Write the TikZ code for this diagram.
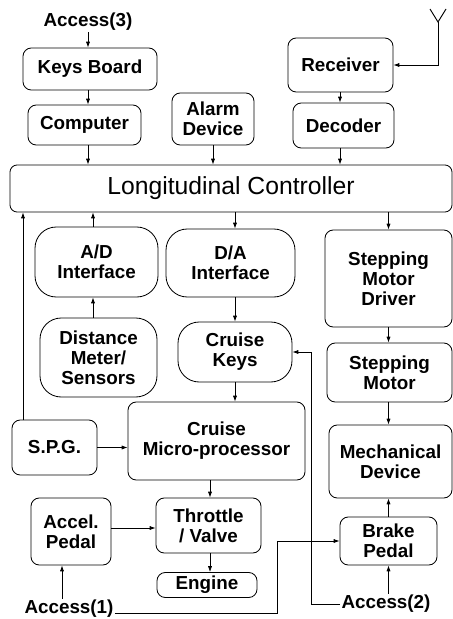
\documentclass[tikz,border=0pt]{standalone}
\usepackage{fontspec}
\setmainfont{Liberation Sans}
\usetikzlibrary{shapes,arrows.meta,positioning}

\begin{document}
\begin{tikzpicture}[
    x=0.85pt, y=-0.85pt,
    block/.style 2 args={rectangle, draw=black, line width=0.7pt, rounded corners=7pt, inner sep=0pt, align=center,
        minimum width=#1*0.85pt, minimum height=#2*0.85pt, font=\fontsize{16}{17}\selectfont\bfseries},
    soft/.style={rounded corners=18pt},
    label/.style={inner sep=1pt, font=\fontsize{16}{17}\selectfont\bfseries},
    link/.style={line width=0.6pt, -{Latex[length=5pt,width=3.5pt]}},
    wire/.style={line width=0.8pt}
]
\useasboundingbox (0,0) rectangle (453,619);

% Top row
\node [label] (acc3) at (88,22) {Access(3)};
\node [block={134}{42}] (keys) at (90,69) {Keys Board};
\node [block={113}{40}] (comp) at (84.5,125) {Computer};
\node [block={82}{52}] (alarm) at (213,119) {Alarm\\Device};
\node [block={105}{54}] (recv) at (340.5,65) {Receiver};
\node [block={101}{45}] (dec) at (343.5,125.5) {Decoder};
\coordinate (ant) at (438,22);

% Controller
\node [block={442}{47}, rounded corners=6pt, font=\fontsize{21}{23}\selectfont] (lc) at (231,188.5) {Longitudinal Controller};

% Middle
\node [block={123}{70}, soft] (ad) at (96.5,262) {A/D\\Interface};
\node [block={129}{68}, soft] (da) at (230.5,263) {D/A\\Interface};
\node [block={127}{97}] (smd) at (388.5,278.5) {Stepping\\Motor\\Driver};
\node [block={117}{79}, soft] (dist) at (98.5,357.5) {Distance\\Meter/\\Sensors};
\node [block={114}{60}, soft] (ck) at (235,352) {Cruise\\Keys};
\node [block={125}{59}] (sm) at (389.5,372.5) {Stepping\\Motor};
\node [block={177}{78}] (cmp) at (216.5,441) {Cruise\\Micro-processor};
\node [block={85}{55}] (spg) at (54.5,447.5) {S.P.G.};
\node [block={123}{73}] (md) at (390.5,461.5) {Mechanical\\Device};

% Bottom
\node [block={80}{67}] (acc) at (71,531.5) {Accel.\\Pedal};
\node [block={105}{55}] (thr) at (208.5,525.5) {Throttle\\/ Valve};
\node [block={100}{25}] (eng) at (207,585) {Engine};
\node [block={97}{48}] (brk) at (388.5,541) {Brake\\Pedal};
\node [label] (acc1) at (69,609) {Access(1)};
\node [label] (acc2) at (386,604) {Access(2)};
\coordinate (spgup) at (23,420);
\coordinate (ckturn) at (311,352);
\coordinate (brkturn) at (277,541);

% Antenna
\draw [wire] (430,9) -- (ant) -- (446,9);

% Links
\draw [link] (acc3) -- (acc3 |- keys.north);
\draw [link] (keys.south -| acc3) -- (comp.north -| acc3);
\draw [link] (comp.south -| acc3) -- (lc.north -| acc3);
\draw [link] (alarm.south) -- (lc.north -| alarm.south);
\draw [link] (dec.south -| 340,0) -- (lc.north -| 340,0);
\draw [link] (recv.south -| 340,0) -- (dec.north -| 340,0);
\draw [link] (ant) |- (recv.east);
\draw [link] (ad.north -| 93,0) -- (lc.south -| 93,0);
\draw [link] (dist.north -| 93,0) -- (ad.south -| 93,0);
\draw [link] (lc.south -| ck) -- (da.north -| ck);
\draw [link] (da.south -| ck) -- (ck.north);
\draw [link] (ck.south) -- (cmp.north -| ck);
\draw [link] (lc.south -| smd) -- (smd.north);
\draw [link] (smd.south) -- (sm.north -| smd);
\draw [link] (sm.south -| smd) -- (md.north -| smd);
\draw [link] (brk.north) -- (md.south -| brk);
\draw [link] (acc2.north -| brk) -- (brk.south);
\draw [link] (acc2.west) -| (ckturn) -- (ck.east);
\draw [link] (spgup) -- (lc.south -| spgup);
\draw [link] (spg.east) -- (spg.east -| cmp.west);
\draw [link] (cmp.south -| 210,0) -- (thr.north -| 210,0);
\draw [link] (thr.south -| 210,0) -- (eng.north -| 210,0);
\draw [link] (acc.east |- 0,528) -- (thr.west |- 0,528);
\draw [link] (acc1.north -| 62,0) -- (acc.south -| 62,0);
\draw [link] ([yshift=-4pt]acc1.east) -| (brkturn) -- (brk.west);

\end{tikzpicture}
\end{document}
